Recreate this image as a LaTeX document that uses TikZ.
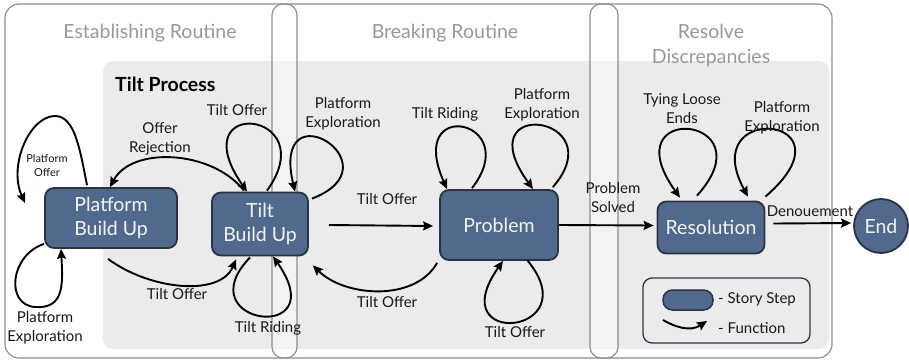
\documentclass[tikz,border=0pt]{standalone}
\usepackage{fontspec}
\setmainfont{Lato}
\usetikzlibrary{arrows.meta,calc}
\definecolor{nodefill}{HTML}{52698E}
\definecolor{nodeedge}{HTML}{2B3342}
\definecolor{headgrey}{HTML}{999999}
\definecolor{regiongrey}{HTML}{EBEBEB}
\definecolor{framegrey}{HTML}{8C8C8C}
\begin{document}
\begin{tikzpicture}[x=1pt,y=-1pt,
  stepbox/.style={draw=nodeedge,line width=1.8pt,fill=nodefill,rounded corners=9pt,
    text=white!92!nodefill,align=center,font=\fontsize{19.5}{23.5}\selectfont,inner sep=0pt},
  endbox/.style={draw=nodeedge,line width=1.8pt,fill=nodefill,circle,
    text=white!92!nodefill,font=\fontsize{19.5}{23.5}\selectfont,inner sep=0pt,minimum size=54pt},
  fn/.style={draw=black,line width=1.9pt,-{Stealth[length=10pt,width=9pt,inset=1.5pt]}},
  lbl/.style={align=center,font=\fontsize{15}{19}\selectfont,inner sep=0pt,text=black!90},
  smalllbl/.style={align=center,font=\fontsize{11}{14}\selectfont,inner sep=0pt,text=black!90},
  head/.style={align=center,font=\fontsize{19.5}{25}\selectfont,text=headgrey,inner sep=0pt},
  divider/.style={draw=framegrey,line width=1.1pt,fill=white,fill opacity=0.4,rounded corners=11pt}
]
\useasboundingbox (0,0) rectangle (909,362);
% frames
\draw[draw=framegrey,line width=1.1pt,fill=white,rounded corners=14pt] (5,4) rectangle (832,358);
\fill[regiongrey,rounded corners=10pt] (103,61) rectangle (829,349);
\node[head] (h1) at (150,33) {Establishing Routine};
\node[head] (h2) at (445,33) {Breaking Routine};
\node[head] (h3) at (711,45) {Resolve\\Discrepancies};
\node[anchor=west,inner sep=0pt,font=\bfseries\fontsize{19.5}{22}\selectfont] (tp) at (115,84) {Tilt Process};
\draw[divider] (272,4) rectangle (297,358);
\draw[divider] (590,4) rectangle (618,358);
% nodes
\node[stepbox,minimum width=132pt,minimum height=60pt] (pbu) at (111,218) {Platform\\Build Up};
\node[stepbox,minimum width=96pt,minimum height=63pt] (tbu) at (260,224) {Tilt\\Build Up};
\node[stepbox,minimum width=118pt,minimum height=70pt] (prob) at (499,225) {Problem};
\node[stepbox,minimum width=107pt,minimum height=52pt] (res) at (711,227.5) {Resolution};
\node[endbox] (end) at (881,226) {End};
\coordinate (poend) at (25,203);
% connectors
\draw[fn] ($(pbu.north)+(-24,-2)$) .. controls (80,150) and (75,116) .. (55,116)
   .. controls (30,116) and (8,165) .. (poend);
\draw[fn] ($(pbu.south west)+(0,-5)$) .. controls (10,255) and (5,305) .. (35,307)
   .. controls (64,309) and (63,285) .. ($(pbu.south)+(-50,0)$);
\draw[fn] ($(tbu.north)+(-16,-1)$) .. controls (212,150) and (132,146) .. ($(pbu.north)+(-1,0)$);
\draw[fn] ($(tbu.north)+(7,-1)$) .. controls (325,110) and (180,95) .. ($(tbu.north)+(-13,0)$);
\draw[fn] ($(tbu.north east)+(3,7)$) .. controls (400,165) and (270,85) .. ($(tbu.north)+(35,0)$);
\draw[fn] ($(tbu.south)+(-10,1)$) .. controls (185,325) and (335,345) .. ($(tbu.south)+(13,0)$);
\draw[fn] ($(pbu.south)+(-3,10)$) .. controls (150,290) and (220,297) .. ($(tbu.south)+(-24,3)$);
\draw[fn] ($(tbu.east)+(20,1)$) -- ($(prob.west)+(-6,1)$);
\draw[fn] ($(prob.south west)+(-2,2)$) .. controls (415,302) and (345,297) .. ($(tbu.south east)+(4,9)$);
\draw[fn] ($(prob.north)+(-27,-1)$) .. controls (525,120) and (405,95) .. ($(prob.north west)+(8,0)$);
\draw[fn] ($(prob.north east)+(-6,-2)$) .. controls (615,115) and (465,95) .. ($(prob.north)+(34,0)$);
\draw[fn] ($(prob.south)+(28,-1)$) .. controls (590,335) and (440,350) .. ($(prob.south)+(4,0)$);
\draw[fn] ($(prob.east)+(0,0)$) -- ($(res.west)+(-3,-2)$);
\draw[fn] ($(res.north)+(-14,-5)$) .. controls (770,115) and (610,100) .. ($(res.north)+(-31,-3)$);
\draw[fn] ($(res.north east)+(0,-4)$) .. controls (860,115) and (695,100) .. ($(res.north)+(37,-4)$);
\draw[fn] ($(res.east)+(8,-4)$) -- ($(end.west)+(-2,-3)$);
% labels
\node[smalllbl] (l1) at (47,165) {Platform\\Offer};
\node[lbl] (l2) at (45,328) {Platform\\Exploration};
\node[lbl] (l3) at (160,139) {Offer\\Rejection};
\node[lbl] (l4) at (237,110) {Tilt Offer};
\node[lbl] (l5) at (343,114) {Platform\\Exploration};
\node[lbl] (l6) at (268,328) {Tilt Riding};
\node[lbl] (l7) at (177,294) {Tilt Offer};
\node[lbl] (l8) at (387,199) {Tilt Offer};
\node[lbl] (l9) at (387,302) {Tilt Offer};
\node[lbl] (l10) at (445,114) {Tilt Riding};
\node[lbl] (l11) at (542,105) {Platform\\Exploration};
\node[lbl] (l12) at (515,332) {Tilt Offer};
\node[lbl] (l13) at (613,198) {Problem\\Solved};
\node[lbl] (l14) at (682,109) {Tying Loose\\Ends};
\node[lbl] (l15) at (782,118) {Platform\\Exploration};
\node[lbl] (l16) at (810,211) {Denouement};
% legend
\draw[draw=nodeedge,line width=1.3pt,rounded corners=9pt] (643,278) rectangle (810,343);
\node[draw=nodeedge,line width=1.5pt,fill=nodefill,rounded corners=9.5pt,minimum width=50pt,minimum height=20pt,inner sep=0pt] (lgstep) at (688,300) {};
\coordinate (lgfa) at (663,320);
\coordinate (lgfb) at (707,321);
\draw[fn] (lgfa) .. controls (675,327) and (690,332) .. (lgfb);
\node[lbl,anchor=west] (lg1) at (718,299) {- Story Step};
\node[lbl,anchor=west] (lg2) at (718,328) {- Function};
\end{tikzpicture}
\end{document}
